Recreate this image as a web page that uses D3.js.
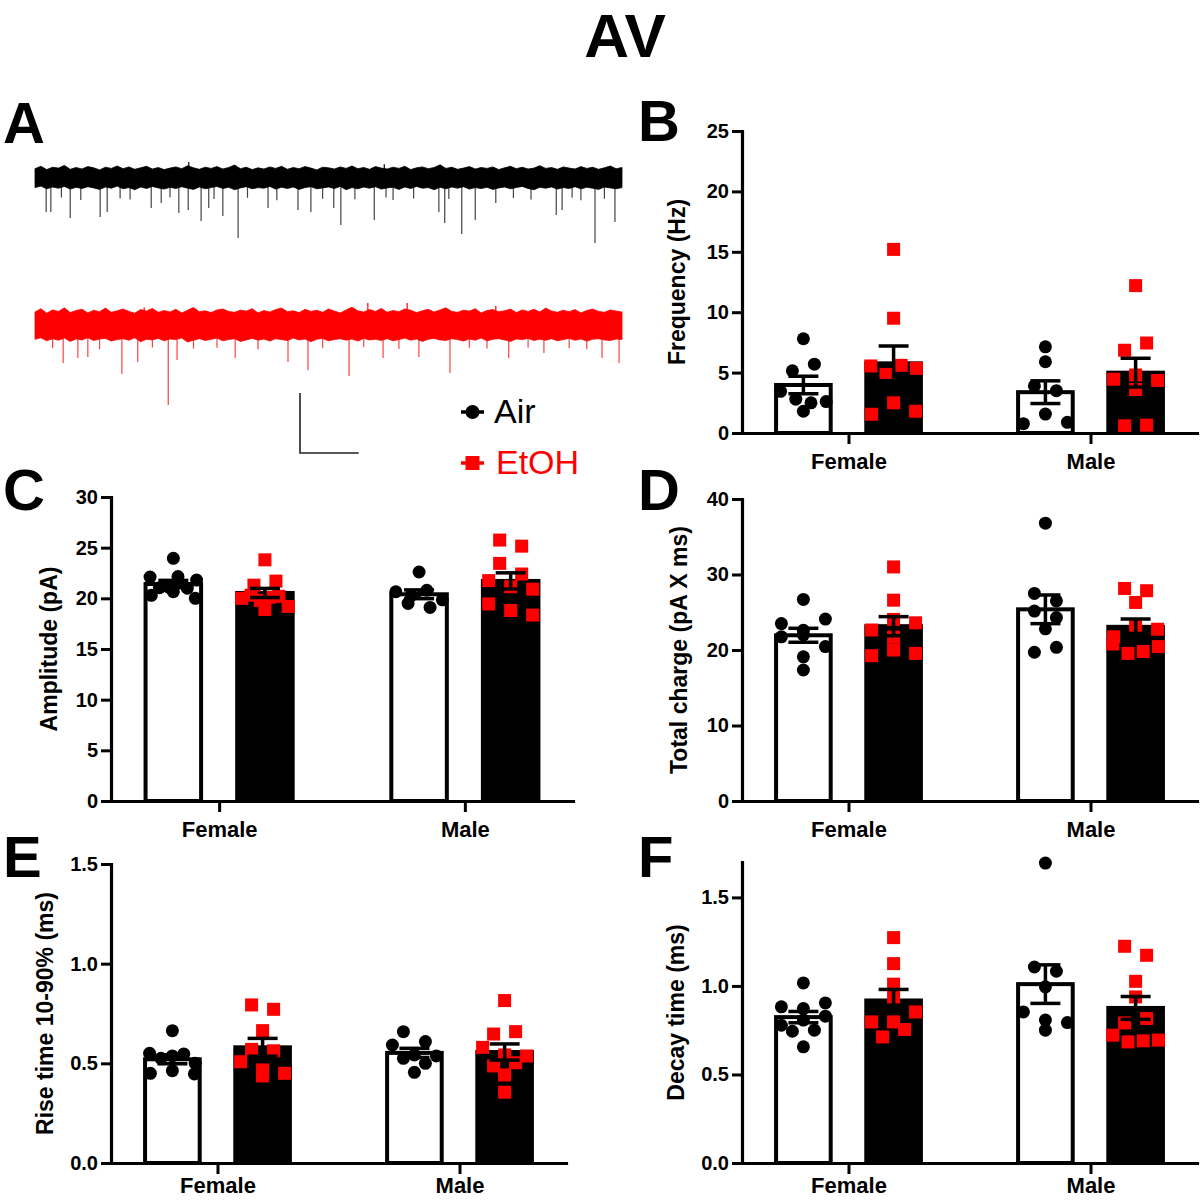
<!DOCTYPE html>
<html>
<head>
<meta charset="utf-8">
<script src="https://cdn.jsdelivr.net/npm/d3@7"></script>
<style>
body { margin: 0; background: #fff; }
svg { display: block; }
text { font-family: "Liberation Sans", Arial, Helvetica, sans-serif; }
</style>
</head>
<body>
<svg id="fig" width="1200" height="1200"></svg>
<script>
var groups = ["Female", "Male"];
var treatments = ["Air", "EtOH"];

// per-cell values, [female, male]
var freqAir = [[7.8, 5.15, 5.7, 3.45, 2.8, 2.5, 2.6, 1.8], [7.13, 5.9, 3.9, 3.5, 0.77, 1.57, 0.88]];
var freqEtoh = [[15.2, 9.5, 5.55, 4.85, 5.6, 5.35, 1.55, 2.5, 1.8], [12.2, 6.85, 7.45, 4.45, 4.8, 4.35, 3.6, 0.6, 0.65]];
var ampAir = [[23.95, 22.1, 21.05, 21.1, 22.15, 21.0, 21.8, 20.3, 20.65, 20.0], [22.6, 20.65, 20.3, 20.8, 19.5, 19.85, 19.1]];
var ampEtoh = [[23.8, 21.3, 21.7, 20.0, 20.3, 19.8, 20.1, 20.2, 19.2, 18.9], [25.75, 25.15, 23.45, 21.75, 22.4, 21.15, 20.9, 19.45, 18.8, 18.35]];
var chargeAir = [[26.7, 23.5, 22.6, 24.1, 21.75, 22.0, 20.45, 19.1, 17.35], [36.8, 27.5, 26.5, 25.15, 24.3, 22.8, 19.7, 20.35]];
var chargeEtoh = [[31.0, 26.6, 22.65, 24.05, 23.6, 21.7, 19.25, 20.0, 19.55], [28.15, 27.85, 26.3, 21.75, 23.3, 22.75, 20.8, 19.55, 19.8, 20.45]];
var riseAir = [[0.664, 0.55, 0.525, 0.537, 0.547, 0.50, 0.45, 0.463, 0.447], [0.659, 0.609, 0.592, 0.525, 0.542, 0.537, 0.50, 0.455]];
var riseEtoh = [[0.793, 0.771, 0.664, 0.57, 0.563, 0.508, 0.467, 0.437, 0.45], [0.815, 0.647, 0.659, 0.58, 0.542, 0.537, 0.487, 0.503, 0.442, 0.355]];
var decayAir = [[1.017, 0.882, 0.872, 0.904, 0.778, 0.807, 0.829, 0.744, 0.75, 0.656], [1.694, 1.107, 1.083, 0.995, 0.853, 0.807, 0.793, 0.75]];
var decayEtoh = [[1.273, 1.126, 1.01, 0.938, 0.797, 0.797, 0.853, 0.712, 0.754], [1.224, 1.173, 1.026, 0.938, 0.791, 0.816, 0.722, 0.684, 0.69, 0.694]];

var freqTicks = [0, 5, 10, 15, 20, 25];
var ampTicks = [0, 5, 10, 15, 20, 25, 30];
var chargeTicks = [0, 10, 20, 30, 40];
var riseTicks = [0, 0.5, 1.0, 1.5];
var decayTicks = [0, 0.5, 1.0, 1.5];

// example sweeps (10 s): noise band envelope in pA, sampled evenly
var sweepSeconds = 10;
var airNoiseTop = [3.1,3.9,2.8,3.6,3.3,4.2,2.9,3.5,3.0,3.8,3.4,2.7,3.6,3.2,4.0,3.1,3.7,2.9,3.4,3.9,
    3.0,3.5,2.8,3.3,3.7,3.1,4.1,3.4,2.9,3.6,3.2,3.8,3.0,3.5,4.3,3.1,3.6,2.8,3.4,3.0,
    3.7,3.2,3.9,2.9,3.5,3.1,3.8,3.3,2.7,3.6,3.4,3.0,3.7,3.2,4.0,3.1,3.5,2.9,3.8,3.3,
    3.0,3.6,3.2,3.9,2.8,3.4,3.7,3.1,3.5,4.4,3.2,3.6,2.9,3.3,3.8,3.0,3.5,3.2,3.7,2.8,
    3.4,3.9,3.1,3.6,3.0,3.3,4.1,3.2,3.5,2.9,3.7,3.3,3.0,3.8,3.2,3.6,2.9,3.4,4.0,3.1,3.5];
var airNoiseBottom = [3.2,2.7,3.6,3.0,3.4,2.8,3.7,3.1,3.5,2.9,3.3,3.8,3.0,3.4,2.7,3.6,3.2,3.9,3.0,3.5,
    2.8,3.3,3.7,3.1,3.5,2.9,3.4,3.8,3.0,3.6,3.2,2.8,3.5,3.1,3.9,3.3,2.9,3.6,3.2,3.4,
    2.8,3.7,3.1,3.5,3.0,3.8,3.2,2.9,3.6,3.3,3.0,3.5,2.8,3.9,3.2,3.6,3.0,3.4,2.9,3.7,
    3.3,3.1,3.8,3.0,3.5,2.8,3.4,3.2,3.9,3.1,3.6,3.0,3.4,2.9,3.7,3.2,3.5,3.1,3.8,3.3,
    3.0,3.6,3.2,2.8,3.5,3.9,3.1,3.4,3.0,3.7,3.2,3.5,2.9,3.6,3.1,3.4,3.8,3.0,3.3,3.6,3.2];
var etohNoiseTop = [5.0,6.1,4.6,5.7,5.2,6.4,4.8,5.5,5.9,4.7,5.6,5.1,6.3,4.9,5.4,6.0,5.2,4.6,5.8,5.3,
    6.2,4.9,5.5,5.0,5.9,4.7,5.6,6.5,5.1,5.4,4.8,5.7,6.0,5.2,4.9,5.6,5.3,6.1,4.7,5.5,
    5.0,5.8,6.3,5.1,5.4,4.8,5.9,5.2,5.6,4.9,6.0,5.3,4.7,5.7,6.6,5.4,5.0,5.8,5.2,6.2,
    4.9,5.5,5.1,6.0,5.6,4.8,5.4,5.9,5.0,5.7,6.4,5.2,4.9,5.6,5.3,6.1,4.7,5.5,5.8,5.1,
    5.4,6.0,4.8,5.7,5.2,5.9,5.0,6.3,5.3,4.9,5.6,5.1,5.8,4.7,5.5,6.0,5.2,4.9,5.7,5.3,5.0];
var etohNoiseBottom = [4.1,3.6,4.6,3.9,4.4,3.7,4.8,4.0,4.3,3.6,4.5,4.0,3.8,4.7,4.2,3.9,4.4,3.6,4.9,4.1,
    4.3,3.8,4.6,4.0,4.2,3.7,5.0,4.4,3.9,4.5,4.1,3.7,4.6,4.2,3.9,4.8,4.3,3.8,4.4,4.0,
    4.7,3.9,4.2,4.5,3.7,4.3,4.0,4.9,4.1,3.8,4.6,4.2,3.9,4.4,4.0,4.7,3.8,4.3,4.1,4.5,
    3.9,4.6,4.2,3.7,4.4,4.0,4.8,4.1,3.8,4.3,4.5,3.9,4.2,4.7,4.0,4.4,3.7,4.6,4.1,3.9,
    4.3,4.8,4.0,4.2,3.8,4.5,4.1,4.4,3.9,4.6,4.2,3.8,4.4,4.0,4.7,4.1,3.9,4.3,4.5,4.0,4.2];

// sEPSC events: time (s) and amplitude (pA, inward)
var airEventTimes = [0.19,0.27,0.45,0.60,0.78,1.11,1.23,1.45,1.62,1.98,2.15,2.30,2.45,2.61,2.83,2.96,3.05,3.20,3.46,3.62,
    3.97,4.12,4.48,4.70,4.90,5.09,5.21,5.45,5.78,5.98,6.10,6.45,6.88,6.98,7.05,7.27,7.50,7.85,8.15,8.45,
    8.88,8.98,9.15,9.30,9.54,9.70,9.88];
var airEventAmps = [11.3,11.3,6.5,13.3,7.3,13.0,11.3,6.8,7.2,10.0,8.3,6.4,11.7,10.7,14.3,10.0,7.0,12.7,20.0,6.6,
    10.0,7.4,10.7,11.3,6.9,10.0,15.7,7.1,14.0,6.5,7.3,6.8,11.3,15.0,7.0,18.7,14.0,8.3,6.7,7.2,
    12.3,10.7,6.6,7.4,21.7,6.9,14.7];
var etohEventTimes = [0.30,0.48,0.73,0.90,1.10,1.48,1.75,2.00,2.27,2.42,2.70,3.10,3.41,3.80,4.31,4.65,4.90,5.35,5.60,5.93,
    6.20,6.54,7.07,7.40,7.70,8.07,8.40,8.67,9.10,9.40,9.66,9.95];
var etohEventAmps = [7.0,12.0,10.3,10.0,7.4,15.7,11.7,6.8,26.0,11.0,7.2,6.9,10.3,7.5,11.7,14.3,7.0,16.3,6.7,10.3,
    7.3,10.0,15.3,6.9,7.2,10.3,6.8,8.7,7.1,7.4,10.3,12.0];
var airUpTimes = [2.62, 5.95];
var airUpAmps = [5.3, 4.6];
var etohUpTimes = [1.86, 5.67, 6.34, 7.85];
var etohUpAmps = [6.5, 8.0, 8.0, 7.0];

var scaleBarPA = 20;
var scaleBarSec = 1;

var RED = "#ff0000";
var svg = d3.select("#fig");

svg.append("text")
    .attr("x", 625).attr("y", 57)
    .attr("text-anchor", "middle")
    .style("font-size", "62px").style("font-weight", "bold")
    .text("AV");

var letters = [["A", 3, 143], ["B", 638, 141], ["C", 3, 510], ["D", 638, 510], ["E", 3, 877], ["F", 638, 877]];
svg.selectAll("text.letter").data(letters).enter().append("text")
    .attr("class", "letter")
    .attr("x", function(d) { return d[1]; })
    .attr("y", function(d) { return d[2]; })
    .style("font-size", "58px").style("font-weight", "bold")
    .text(function(d) { return d[0]; });

// ---- panel A traces ----
var xTrace = d3.scaleLinear().domain([0, sweepSeconds]).range([35, 622]);

function drawTrace(baseY, top, bottom, evT, evA, upT, upA, color, evColor) {
    var y = d3.scaleLinear().domain([0, 20]).range([baseY, baseY - 60]);
    var n = Math.min(top.length, bottom.length);
    var t = function(i) { return i * sweepSeconds / (n - 1); };
    var g = svg.append("g");
    var area = d3.area()
        .x(function(d, i) { return xTrace(t(i)); })
        .y0(function(d, i) { return y(-bottom[i]); })
        .y1(function(d, i) { return y(top[i]); });
    g.selectAll("line.ev").data(evT).enter().append("line")
        .attr("class", "ev")
        .attr("x1", function(d) { return xTrace(d); })
        .attr("x2", function(d) { return xTrace(d); })
        .attr("y1", y(0))
        .attr("y2", function(d, i) { return y(-evA[i]); })
        .attr("stroke", evColor)
        .attr("stroke-width", 1.2);
    g.selectAll("line.up").data(upT).enter().append("line")
        .attr("class", "up")
        .attr("x1", function(d) { return xTrace(d); })
        .attr("x2", function(d) { return xTrace(d); })
        .attr("y1", y(0))
        .attr("y2", function(d, i) { return y(upA[i]); })
        .attr("stroke", color)
        .attr("stroke-width", 1.2);
    g.append("path")
        .datum(top.slice(0, n))
        .attr("d", area)
        .attr("fill", color)
        .attr("stroke", color)
        .attr("stroke-width", 0.8)
        .attr("stroke-linejoin", "miter");
    return y;
}

var yAirTrace = drawTrace(178, airNoiseTop, airNoiseBottom, airEventTimes, airEventAmps, airUpTimes, airUpAmps, "#000", "#444");
drawTrace(327, etohNoiseTop, etohNoiseBottom, etohEventTimes, etohEventAmps, etohUpTimes, etohUpAmps, RED, "#ff4040");

// scale bar, same units as the traces
var sbX = 300, sbY = 453;
var sbLen = yAirTrace(0) - yAirTrace(scaleBarPA);
var sbW = xTrace(scaleBarSec) - xTrace(0);
svg.append("path")
    .attr("d", "M" + sbX + "," + (sbY - sbLen) + "V" + sbY + "H" + (sbX + sbW))
    .attr("fill", "none")
    .attr("stroke", "#222")
    .attr("stroke-width", 1.6);

// legend
var legend = svg.append("g");
legend.append("line").attr("x1", 461).attr("x2", 484).attr("y1", 412).attr("y2", 412)
    .attr("stroke", "#000").attr("stroke-width", 3.5);
legend.append("circle").attr("cx", 472.5).attr("cy", 412).attr("r", 7).attr("fill", "#000");
legend.append("text").attr("x", 494).attr("y", 423)
    .style("font-size", "34px").attr("fill", "#000").text("Air");
legend.append("line").attr("x1", 461).attr("x2", 484).attr("y1", 463).attr("y2", 463)
    .attr("stroke", RED).attr("stroke-width", 3.5);
legend.append("rect").attr("x", 465.5).attr("y", 456).attr("width", 14).attr("height", 14).attr("fill", RED);
legend.append("text").attr("x", 496).attr("y", 474)
    .style("font-size", "34px").attr("fill", RED).text("EtOH");

// ---- bar + scatter panels ----
function layoutPoints(vals, y, bw, diam) {
    // Prism-ish rows: points close in y share a row and spread across the bar
    var idx = vals.map(function(v, i) { return i; })
        .sort(function(a, b) { return vals[b] - vals[a]; });
    var offsets = [];
    var row = [];
    var flush = function() {
        row.sort(function(a, b) { return a - b; });
        var n = row.length;
        var sp = n > 1 ? Math.min(22, (bw - diam) / (n - 1)) : 0;
        row.forEach(function(k, j) { offsets[k] = (j - (n - 1) / 2) * sp; });
        row = [];
    };
    var rowY = null;
    idx.forEach(function(k) {
        var py = y(vals[k]);
        if (rowY === null || py - rowY >= diam * 0.92) {
            if (row.length) flush();
            rowY = py;
        }
        row.push(k);
    });
    flush();
    return offsets;
}

function drawBarPanel(p) {
    var g = svg.append("g");
    var y = d3.scaleLinear().domain([0, p.yMax]).range([p.yBottom, p.yTop]);
    var xg = d3.scalePoint().domain(groups).range([p.x0, p.x1]).padding(0.44);
    var gw = xg.step() * 0.615;
    var xt = d3.scaleBand().domain(treatments).range([-gw / 2, gw / 2]).paddingInner(0.35).paddingOuter(0);
    var bw = xt.bandwidth();

    var cells = [];
    groups.forEach(function(grp, gi) {
        treatments.forEach(function(tr) {
            var vals = tr === "Air" ? p.air[gi] : p.etoh[gi];
            cells.push({
                group: grp, treat: tr, vals: vals,
                mean: d3.mean(vals),
                sem: d3.deviation(vals) / Math.sqrt(vals.length),
                cx: xg(grp) + xt(tr) + bw / 2
            });
        });
    });

    var sw = 4;
    g.selectAll("rect.bar").data(cells).enter().append("rect")
        .attr("class", "bar")
        .attr("x", function(d) { return d.cx - bw / 2 + sw / 2; })
        .attr("width", bw - sw)
        .attr("y", function(d) { return y(d.mean); })
        .attr("height", function(d) { return y(0) - y(d.mean); })
        .attr("fill", function(d) { return d.treat === "Air" ? "#fff" : "#000"; })
        .attr("stroke", "#000")
        .attr("stroke-width", sw);

    var diam = 13;
    cells.forEach(function(c) {
        var off = layoutPoints(c.vals, y, bw, diam);
        var pts = c.vals.map(function(v, i) { return { x: c.cx + off[i], y: y(v) }; });
        if (c.treat === "Air") {
            g.selectAll(null).data(pts).enter().append("circle")
                .attr("cx", function(d) { return d.x; })
                .attr("cy", function(d) { return d.y; })
                .attr("r", diam / 2)
                .attr("fill", "#000");
        } else {
            g.selectAll(null).data(pts).enter().append("rect")
                .attr("x", function(d) { return d.x - diam / 2; })
                .attr("y", function(d) { return d.y - diam / 2; })
                .attr("width", diam).attr("height", diam)
                .attr("fill", RED);
        }
    });

    var cap = 15;
    var eb = g.selectAll("g.err").data(cells).enter().append("g").attr("class", "err")
        .attr("stroke", "#000").attr("stroke-width", 3.5);
    eb.append("line")
        .attr("x1", function(d) { return d.cx; }).attr("x2", function(d) { return d.cx; })
        .attr("y1", function(d) { return y(d.mean - d.sem); })
        .attr("y2", function(d) { return y(d.mean + d.sem); });
    eb.append("line")
        .attr("x1", function(d) { return d.cx - cap; }).attr("x2", function(d) { return d.cx + cap; })
        .attr("y1", function(d) { return y(d.mean + d.sem); })
        .attr("y2", function(d) { return y(d.mean + d.sem); });
    eb.append("line")
        .attr("x1", function(d) { return d.cx - cap; }).attr("x2", function(d) { return d.cx + cap; })
        .attr("y1", function(d) { return y(d.mean - d.sem); })
        .attr("y2", function(d) { return y(d.mean - d.sem); });

    var ya = g.append("g")
        .attr("transform", "translate(" + p.x0 + ",0)")
        .call(d3.axisLeft(y).tickValues(p.ticks).tickFormat(p.fmt).tickSize(10).tickSizeOuter(0).tickPadding(3));
    var xa = g.append("g")
        .attr("transform", "translate(0," + p.yBottom + ")")
        .call(d3.axisBottom(xg).tickSize(11).tickSizeOuter(0).tickPadding(p.catPad));
    [ya, xa].forEach(function(a) {
        a.select(".domain").attr("stroke-width", 3.2).attr("stroke-linecap", "square");
        a.selectAll(".tick line").attr("stroke-width", 3);
        a.selectAll("text").attr("fill", "#000").style("font-weight", "bold")
            .style("font-family", "'Liberation Sans', Arial, sans-serif");
    });
    ya.selectAll("text").style("font-size", "20px");
    xa.selectAll("text").style("font-size", "22px");

    g.append("text")
        .attr("transform", "translate(" + p.labelX + "," + ((p.yBottom + p.yTop) / 2) + ") rotate(-90)")
        .attr("text-anchor", "middle")
        .attr("dominant-baseline", "central")
        .style("font-size", "23px").style("font-weight", "bold")
        .text(p.label);
}

var panels = [
    { label: "Frequency (Hz)", air: freqAir, etoh: freqEtoh, yMax: 25, ticks: freqTicks, fmt: d3.format("d"),
      x0: 742, x1: 1197, yBottom: 433, yTop: 131, labelX: 677, catPad: 9 },
    { label: "Amplitude (pA)", air: ampAir, etoh: ampEtoh, yMax: 30, ticks: ampTicks, fmt: d3.format("d"),
      x0: 111, x1: 573, yBottom: 801, yTop: 497, labelX: 49, catPad: 9 },
    { label: "Total charge (pA X ms)", air: chargeAir, etoh: chargeEtoh, yMax: 40, ticks: chargeTicks, fmt: d3.format("d"),
      x0: 742, x1: 1197, yBottom: 801, yTop: 499, labelX: 679, catPad: 9 },
    { label: "Rise time 10-90% (ms)", air: riseAir, etoh: riseEtoh, yMax: 1.5, ticks: riseTicks, fmt: d3.format(".1f"),
      x0: 111, x1: 566, yBottom: 1163, yTop: 864, labelX: 45, catPad: 3 },
    { label: "Decay time (ms)", air: decayAir, etoh: decayEtoh, yMax: 1.7, ticks: decayTicks, fmt: d3.format(".1f"),
      x0: 742, x1: 1197, yBottom: 1163, yTop: 862, labelX: 676, catPad: 3 }
];
panels.forEach(drawBarPanel);
</script>
</body>
</html>
